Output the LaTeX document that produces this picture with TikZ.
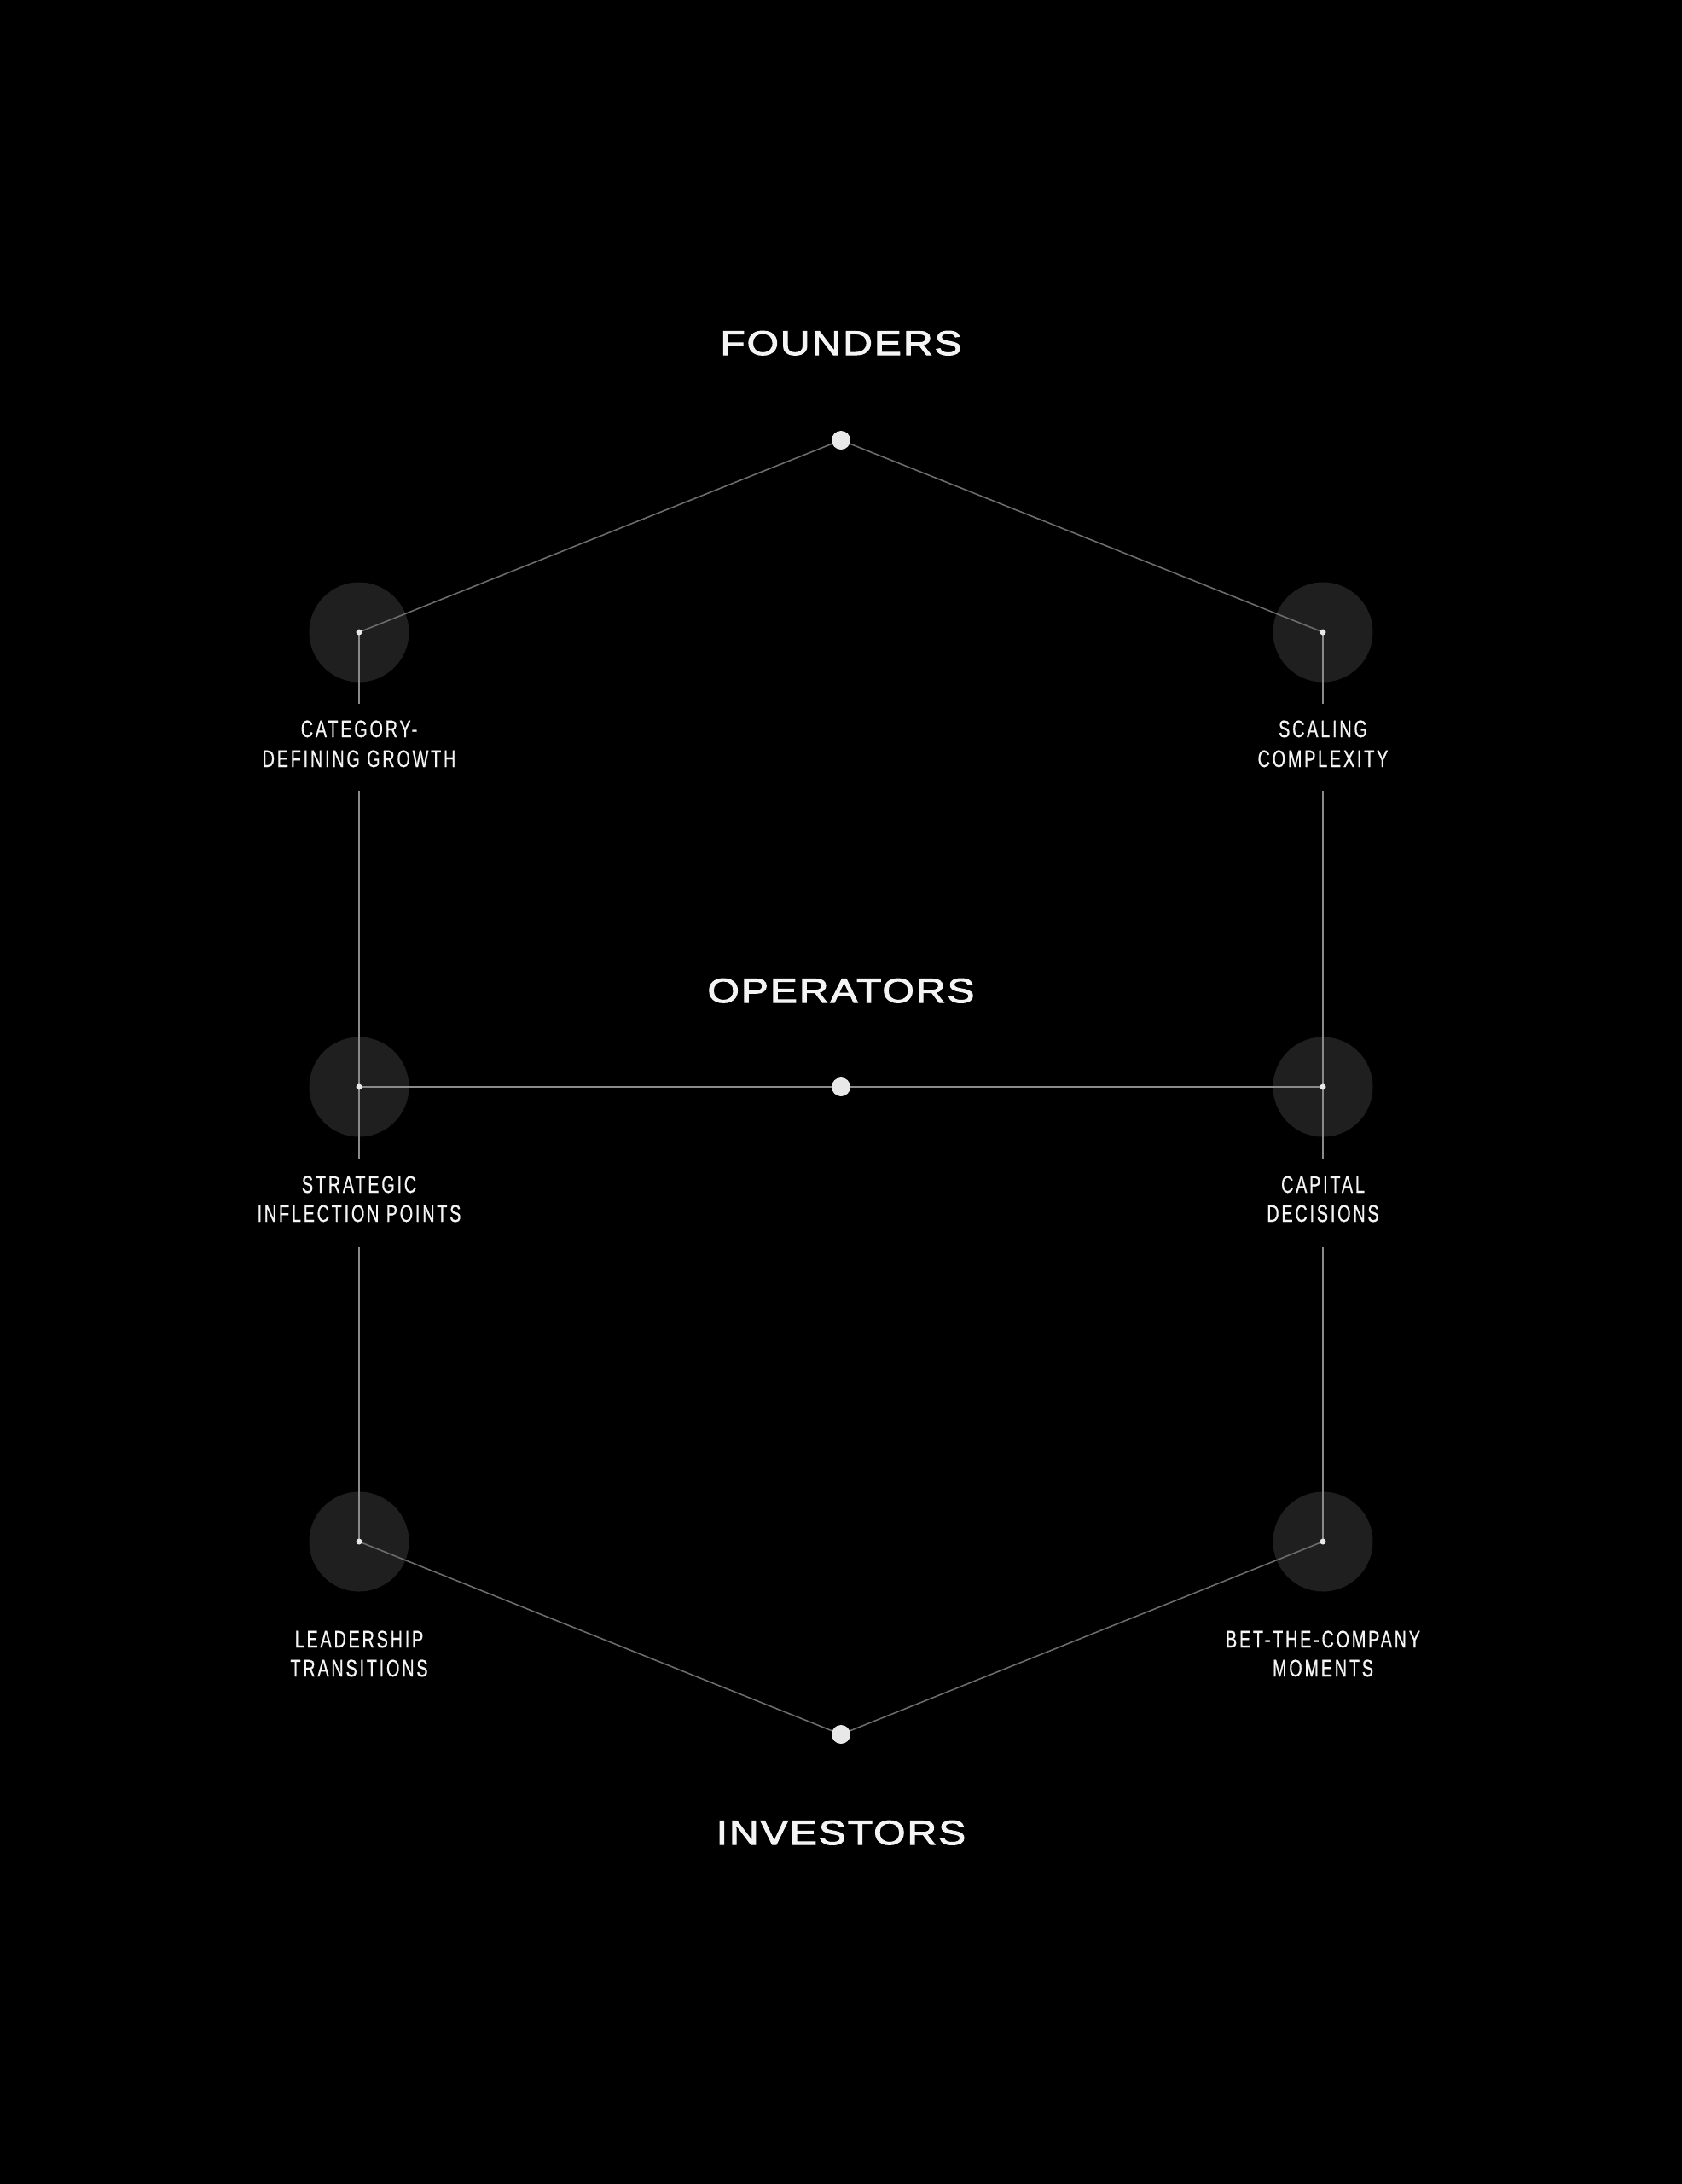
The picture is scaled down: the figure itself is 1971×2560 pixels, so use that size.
\documentclass[tikz,border=0pt]{standalone}
\usepackage{fontspec}
\newfontfamily\titlefont[FakeStretch=1.2,LetterSpace=5,FakeBold=2.6]{Liberation Sans}
\newfontfamily\labelfont[FakeStretch=0.71,LetterSpace=10,FakeBold=0.6]{Liberation Sans}
\definecolor{halocol}{HTML}{1F1F1F}
\definecolor{linecol}{HTML}{8A8A8A}
\definecolor{diagcol}{HTML}{6C6C6C}
\definecolor{dotcol}{HTML}{E8E8E8}
\definecolor{textcol}{HTML}{F4F4F4}
\begin{document}
\begin{tikzpicture}[x=1pt,y=-1pt,
  halo/.style={circle,fill=halocol,draw=none,minimum size=117pt,inner sep=0pt},
  smalldot/.style={circle,fill=dotcol,draw=none,minimum size=7pt,inner sep=0pt},
  bigdot/.style={circle,fill=dotcol,draw=none,minimum size=22pt,inner sep=0pt},
  conn/.style={draw=linecol,line width=1.5pt},
  diag/.style={draw=diagcol,line width=1.6pt},
  title/.style={text=textcol,font=\titlefont\fontsize{40}{40}\selectfont,anchor=base,inner sep=0pt},
  lbl/.style={text=textcol,font=\labelfont\fontsize{27.9}{34}\selectfont,anchor=base,inner sep=0pt}]
\useasboundingbox (0,0) rectangle (1971,2560);
\fill[black] (-20,-20) rectangle (1991,2580);
% halos
\node[halo] (h1) at (421,741) {};
\node[halo] (h2) at (1551,741) {};
\node[halo] (h3) at (421,1274) {};
\node[halo] (h4) at (1551,1274) {};
\node[halo] (h5) at (421,1807) {};
\node[halo] (h6) at (1551,1807) {};
% centre points
\coordinate (c1) at (421,741);
\coordinate (c2) at (1551,741);
\coordinate (c3) at (421,1274);
\coordinate (c4) at (1551,1274);
\coordinate (c5) at (421,1807);
\coordinate (c6) at (1551,1807);
\coordinate (fo) at (986,516);
\coordinate (op) at (986,1274);
\coordinate (iv) at (986,2033);
% line free ends around labels
\coordinate (e1a) at (421,825);  \coordinate (e1b) at (421,927);
\coordinate (e2a) at (1551,825); \coordinate (e2b) at (1551,927);
\coordinate (e3a) at (421,1359); \coordinate (e3b) at (421,1462);
\coordinate (e4a) at (1551,1359);\coordinate (e4b) at (1551,1462);
% connectors
\draw[diag] (fo) -- (c1);
\draw[diag] (fo) -- (c2);
\draw[conn] (c3) -- (c4);
\draw[diag] (iv) -- (c5);
\draw[diag] (iv) -- (c6);
\draw[conn] (c1) -- (e1a);
\draw[conn] (e1b) -- (c3);
\draw[conn] (c2) -- (e2a);
\draw[conn] (e2b) -- (c4);
\draw[conn] (c3) -- (e3a);
\draw[conn] (e3b) -- (c5);
\draw[conn] (c4) -- (e4a);
\draw[conn] (e4b) -- (c6);
% dots
\node[bigdot] (dfo) at (fo) {};
\node[bigdot] (dop) at (op) {};
\node[bigdot] (div) at (iv) {};
\node[smalldot] (d1) at (c1) {};
\node[smalldot] (d2) at (c2) {};
\node[smalldot] (d3) at (c3) {};
\node[smalldot] (d4) at (c4) {};
\node[smalldot] (d5) at (c5) {};
\node[smalldot] (d6) at (c6) {};
% titles
\node[title] (tfo) at (986,416) {FOUNDERS};
\node[title] (top) at (986,1175) {OPERATORS};
\node[title] (tiv) at (986,2162) {INVESTORS};
% labels
\node[lbl] (l1a) at (421,864) {CATEGORY-};
\node[lbl] (l1b) at (421,899) {DEFINING GROWTH};
\node[lbl] (l2a) at (1551,864) {SCALING};
\node[lbl] (l2b) at (1551,899) {COMPLEXITY};
\node[lbl] (l3a) at (421,1398) {STRATEGIC};
\node[lbl] (l3b) at (421,1432) {INFLECTION POINTS};
\node[lbl] (l4a) at (1551,1398) {CAPITAL};
\node[lbl] (l4b) at (1551,1432) {DECISIONS};
\node[lbl] (l5a) at (421,1931) {LEADERSHIP};
\node[lbl] (l5b) at (421,1965) {TRANSITIONS};
\node[lbl] (l6a) at (1551,1931) {BET-THE-COMPANY};
\node[lbl] (l6b) at (1551,1965) {MOMENTS};
\end{tikzpicture}
\end{document}
